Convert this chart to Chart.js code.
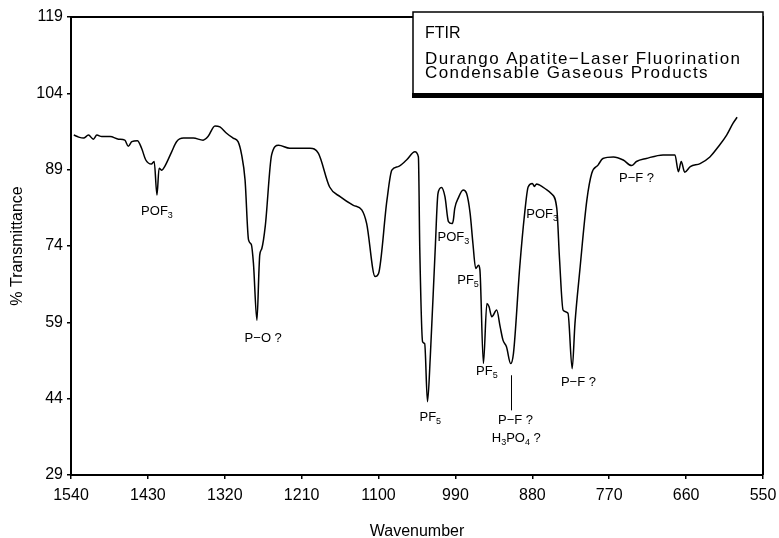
<!DOCTYPE html>
<html>
<head>
<meta charset="utf-8">
<script src="https://cdn.jsdelivr.net/npm/chart.js@4/dist/chart.umd.min.js"></script>
<style>
  body { margin: 0; background: #fff; }
  canvas { display: block; }
</style>
</head>
<body>
<canvas id="ftirChart" width="779" height="538"></canvas>
<script>
// spectrum (cm-1, % transmittance)
const wavenumbers = [
  1536, 1529, 1522, 1515, 1508, 1503, 1496, 1484, 1472, 1463, 1458, 1453, 1445, 1439, 1433, 1425, 1421, 1417, 1414, 1410,
  1406, 1396, 1389, 1379, 1365, 1351, 1344, 1334, 1327, 1317, 1308, 1301, 1296, 1291, 1286, 1282, 1279, 1274, 1271, 1270,
  1267, 1262, 1253, 1243, 1227, 1198, 1186, 1170, 1155, 1136, 1124, 1117, 1105, 1100, 1088, 1081, 1072, 1060, 1048, 1043,
  1041, 1037, 1034, 1030, 1026, 1019, 1015, 1010, 1005, 1000, 995, 993, 991, 986, 979, 974, 969, 965, 961, 957,
  955, 950, 945, 942, 938, 931, 926, 922, 917, 911, 907, 898, 891, 886, 880, 877, 874, 870, 862, 853,
  845, 841, 836, 829, 823, 819, 812, 802, 795, 786, 779, 764, 750, 738, 731, 717, 693, 676, 671, 667,
  662, 654, 640, 626, 614, 602, 593, 587
];
const transmittance = [
  95.8, 95.4, 95.2, 95.8, 95.0, 95.8, 95.5, 95.5, 95.0, 94.8, 93.6, 94.5, 94.7, 93.2, 90.9, 90.1, 90.6, 84.0, 89.3, 88.9,
  89.6, 92.5, 94.5, 95.2, 95.2, 94.8, 95.5, 97.6, 97.4, 96.1, 95.2, 94.5, 92.0, 87.0, 75.2, 74.3, 70.6, 59.4, 69.5, 72.2,
  73.5, 78.0, 91.9, 93.8, 93.2, 93.2, 92.2, 85.6, 83.7, 82.0, 81.1, 78.4, 68.0, 68.6, 83.0, 88.9, 89.6, 90.9, 92.5, 91.5,
  73.2, 55.2, 54.8, 43.4, 52.2, 73.2, 84.3, 85.5, 83.7, 78.8, 78.4, 79.1, 81.4, 83.4, 85.0, 84.3, 80.4, 74.5, 69.6, 70.2,
  69.3, 50.9, 62.7, 62.1, 60.1, 61.4, 58.1, 55.5, 54.2, 50.9, 52.9, 69.9, 80.4, 85.6, 86.3, 85.7, 86.2, 86.0, 85.3, 84.3,
  81.4, 71.2, 61.4, 60.8, 49.9, 58.8, 69.3, 83.0, 88.3, 89.9, 91.2, 91.5, 90.9, 89.8, 90.6, 91.2, 91.9, 91.9, 88.6, 90.6,
  88.5, 89.6, 90.2, 91.5, 93.5, 95.8, 98.1, 99.3
];

const xTicks = [1540, 1430, 1320, 1210, 1100, 990, 880, 770, 660, 550];
const yTicks = [29, 44, 59, 74, 89, 104, 119];

// peak labels; "_" marks a subscript digit
const peakLabels = ["POF_3", "P−O ?", "POF_3", "PF_5", "PF_5", "PF_5", "P−F ?", "H_3PO_4 ?", "POF_3", "P−F ?", "P−F ?"];
const peakWavenumbers = [1417, 1265, 993, 972, 1026, 945, 904, 903, 866, 814, 731];
const peakValues = [81.1, 56.1, 75.9, 67.5, 40.6, 49.6, 40.0, 36.4, 80.5, 47.4, 87.4];

// leader line under the 911 band
const leaderWavenumber = 911;
const leaderFrom = 48.6;
const leaderTo = 41.7;

const boxLines = ["FTIR", "Durango Apatite−Laser Fluorination", "Condensable Gaseous Products"];

const FONT = "'Liberation Sans', Arial, Helvetica, sans-serif";

function splitSub(text) {
  const segs = [];
  for (let i = 0; i < text.length; i++) {
    if (text[i] === "_") {
      segs.push({ t: text[i + 1], sub: true });
      i++;
    } else if (segs.length && !segs[segs.length - 1].sub) {
      segs[segs.length - 1].t += text[i];
    } else {
      segs.push({ t: text[i], sub: false });
    }
  }
  return segs;
}

function drawLabel(ctx, text, cx, cy) {
  const size = 13, subSize = 9;
  const segs = splitSub(text);
  let total = 0;
  segs.forEach((s) => {
    ctx.font = (s.sub ? subSize : size) + "px " + FONT;
    s.w = ctx.measureText(s.t).width;
    total += s.w;
  });
  let x = cx - total / 2;
  const base = cy + size * 0.36;
  segs.forEach((s) => {
    ctx.font = (s.sub ? subSize : size) + "px " + FONT;
    ctx.fillText(s.t, x, s.sub ? base + 3 : base);
    x += s.w;
  });
}

const decorations = {
  id: "decorations",
  afterDatasetsDraw(chart) {
    const { ctx, chartArea, scales } = chart;
    ctx.save();
    ctx.fillStyle = "#000";
    ctx.strokeStyle = "#000";
    ctx.textAlign = "left";
    ctx.textBaseline = "alphabetic";

    peakLabels.forEach((lbl, i) => {
      drawLabel(ctx, lbl, scales.x.getPixelForValue(peakWavenumbers[i]), scales.y.getPixelForValue(peakValues[i]));
    });

    const lx = Math.round(scales.x.getPixelForValue(leaderWavenumber)) + 0.5;
    ctx.lineWidth = 1;
    ctx.beginPath();
    ctx.moveTo(lx, scales.y.getPixelForValue(leaderFrom));
    ctx.lineTo(lx, scales.y.getPixelForValue(leaderTo));
    ctx.stroke();

    // top and right frame
    ctx.lineWidth = 2;
    ctx.beginPath();
    ctx.moveTo(chartArea.left, chartArea.top);
    ctx.lineTo(chartArea.right, chartArea.top);
    ctx.lineTo(chartArea.right, chartArea.bottom);
    ctx.stroke();

    // title box with heavy bottom edge
    const bx = 413, by = 12, bw = chartArea.right - 413, bh = 82;
    ctx.fillStyle = "#fff";
    ctx.fillRect(bx, by, bw, bh);
    ctx.lineWidth = 1.5;
    ctx.strokeRect(bx, by, bw, bh);
    ctx.fillStyle = "#000";
    ctx.fillRect(bx - 1, by + bh - 1, bw + 2, 5);

    ctx.font = "16px " + FONT;
    ctx.fillText(boxLines[0], 425, 38);
    ctx.font = "17px " + FONT;
    ctx.letterSpacing = "1.4px";
    ctx.fillText(boxLines[1], 425, 64);
    ctx.fillText(boxLines[2], 425, 78);
    ctx.restore();
  }
};

new Chart(document.getElementById("ftirChart"), {
  type: "scatter",
  data: {
    datasets: [{
      data: wavenumbers.map((w, i) => ({ x: w, y: transmittance[i] })),
      showLine: true,
      borderColor: "#000",
      borderWidth: 1.5,
      pointRadius: 0,
      cubicInterpolationMode: "monotone"
    }]
  },
  options: {
    responsive: false,
    animation: false,
    devicePixelRatio: 1,
    layout: { padding: { top: 17, right: 16, left: 0, bottom: 0 } },
    plugins: { legend: { display: false }, tooltip: { enabled: false } },
    scales: {
      x: {
        type: "linear",
        reverse: true,
        min: 550,
        max: 1540,
        afterBuildTicks: (s) => { s.ticks = xTicks.map((v) => ({ value: v })); },
        afterFit: (s) => { s.height = 63; s.paddingLeft = 0; s.paddingRight = 0; },
        grid: { drawOnChartArea: false, drawTicks: true, tickLength: 4, color: "#000", lineWidth: 1.5 },
        border: { display: true, color: "#000", width: 2 },
        ticks: {
          autoSkip: false,
          maxRotation: 0,
          padding: 7,
          color: "#000",
          font: { family: FONT, size: 16 },
          callback: (v) => String(v)
        },
        title: {
          display: true,
          text: "Wavenumber",
          color: "#000",
          font: { family: FONT, size: 16, lineHeight: 0.8 },
          padding: 0
        }
      },
      y: {
        min: 29,
        max: 119,
        afterBuildTicks: (s) => { s.ticks = yTicks.map((v) => ({ value: v })); },
        afterFit: (s) => { s.width = 71; s.paddingTop = 0; s.paddingBottom = 0; },
        grid: { drawOnChartArea: false, drawTicks: true, tickLength: 4, color: "#000", lineWidth: 1.5 },
        border: { display: true, color: "#000", width: 2 },
        ticks: {
          autoSkip: false,
          padding: 4,
          color: "#000",
          font: { family: FONT, size: 16 },
          callback: (v) => String(v)
        },
        title: {
          display: true,
          text: "% Transmittance",
          color: "#000",
          font: { family: FONT, size: 16 },
          padding: { top: 8, bottom: 0 }
        }
      }
    }
  },
  plugins: [decorations]
});
</script>
</body>
</html>
